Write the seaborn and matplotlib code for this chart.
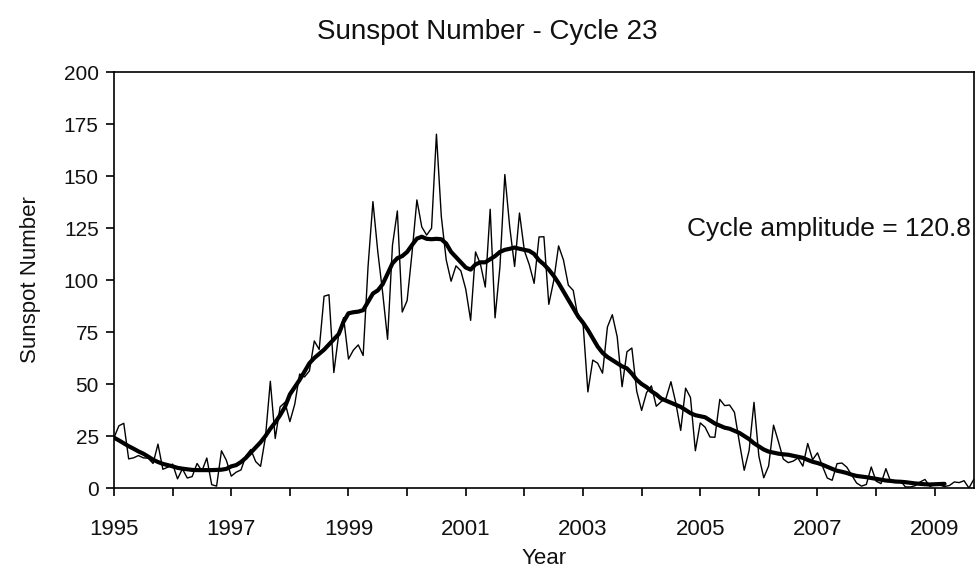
import numpy as np
import pandas as pd
import matplotlib
matplotlib.use("Agg")
import matplotlib.pyplot as plt
import seaborn as sns

# monthly mean sunspot numbers, Jan 1995 .. Sep 2009
monthly_ssn = [
    24.2, 29.9, 31.1, 14.0, 14.5, 15.6, 14.5, 14.3, 11.8, 21.1, 9.0, 10.0,      # 1995
    11.5, 4.4, 9.2, 4.8, 5.5, 11.8, 8.2, 14.4, 1.6, 0.9, 17.9, 13.3,            # 1996
    5.7, 7.6, 8.7, 15.5, 18.5, 12.7, 10.4, 24.4, 51.3, 23.8, 39.0, 41.2,        # 1997
    31.9, 40.3, 54.8, 53.4, 56.3, 70.7, 66.6, 92.2, 92.9, 55.5, 74.0, 81.9,     # 1998
    62.0, 66.3, 68.8, 63.7, 106.4, 137.7, 113.5, 93.7, 71.5, 116.7, 133.2, 84.6,  # 1999
    90.1, 112.9, 138.5, 125.5, 121.6, 124.9, 170.1, 130.5, 109.7, 99.4, 106.8, 104.4,  # 2000
    95.6, 80.6, 113.5, 107.7, 96.6, 134.0, 81.8, 106.4, 150.7, 125.5, 106.5, 132.2,  # 2001
    114.1, 107.4, 98.4, 120.7, 120.8, 88.3, 99.6, 116.4, 109.6, 97.5, 95.0, 81.6,  # 2002
    79.5, 46.2, 61.5, 60.0, 55.2, 77.4, 83.3, 72.7, 48.7, 65.5, 67.3, 46.5,     # 2003
    37.3, 45.8, 49.1, 39.3, 41.5, 43.2, 51.1, 40.9, 27.7, 48.0, 43.5, 17.9,     # 2004
    31.3, 29.2, 24.5, 24.4, 42.6, 39.6, 39.9, 36.4, 22.1, 8.5, 18.0, 41.2,      # 2005
    15.3, 4.9, 10.6, 30.2, 22.3, 13.9, 12.2, 12.9, 14.4, 10.5, 21.4, 13.6,      # 2006
    16.9, 10.6, 4.8, 3.7, 11.7, 12.0, 10.0, 6.2, 2.4, 0.9, 1.7, 10.1,           # 2007
    3.3, 2.1, 9.3, 2.9, 3.2, 3.4, 0.5, 0.5, 1.1, 2.9, 4.1, 0.8,                 # 2008
    1.5, 1.4, 0.7, 1.2, 2.9, 2.6, 3.5, 0.0, 4.2,                                # 2009
]

# 13-month smoothed sunspot numbers, Jan 1995 .. Mar 2009
smoothed_ssn = [
    24.2, 22.9, 21.5, 20.1, 18.9, 17.6, 16.5, 15.1, 13.6, 12.5, 11.6, 11.0,
    10.4, 9.7, 9.3, 9.0, 8.7, 8.6, 8.6, 8.6, 8.6, 8.7, 8.8, 9.2,
    10.4, 11.0, 12.5, 14.5, 17.0, 19.5, 22.0, 25.0, 28.5, 31.5, 35.0, 39.0,
    45.0, 48.5, 52.0, 56.0, 60.0, 62.5, 64.5, 66.5, 69.0, 71.5, 74.0, 80.0,
    84.0, 84.5, 84.8, 85.5, 89.5, 93.5, 95.0, 98.0, 103.0, 108.0, 110.5, 111.5,
    113.5, 116.8, 119.9, 120.8, 119.8, 119.6, 119.8, 119.6, 117.5, 113.5, 111.0, 108.5,
    106.0, 105.0, 107.5, 108.5, 108.5, 110.0, 111.5, 113.5, 114.5, 115.0, 115.6, 115.0,
    114.5, 114.0, 112.5, 109.5, 107.5, 105.0, 102.0, 98.5, 94.5, 90.5, 86.5, 82.5,
    79.5, 76.0, 72.0, 68.0, 65.0, 63.0, 61.5, 60.0, 58.5, 57.5, 55.0, 52.0,
    50.0, 48.5, 46.5, 45.0, 43.0, 42.0, 41.0, 40.0, 39.0, 37.5, 36.0, 35.0,
    34.5, 34.0, 32.5, 31.0, 30.0, 29.0, 28.5, 27.5, 26.5, 25.0, 23.5, 21.5,
    20.0, 18.5, 17.5, 17.0, 16.5, 16.2, 16.0, 15.5, 15.0, 14.5, 13.5, 12.6,
    12.0, 11.2, 10.2, 9.2, 8.3, 7.8, 7.2, 6.4, 5.8, 5.5, 5.2, 4.8,
    4.4, 4.0, 3.6, 3.4, 3.1, 3.0, 2.8, 2.5, 2.2, 2.0, 1.8, 1.7,
    1.8, 1.9, 2.0,
]

start_year = 1995
year_ticks = list(range(1995, 2010))
y_ticks = [0, 25, 50, 75, 100, 125, 150, 175, 200]
amplitude = 120.8

monthly = pd.DataFrame({
    "year": start_year + np.arange(len(monthly_ssn)) / 12.0,
    "ssn": monthly_ssn,
})
smooth = pd.DataFrame({
    "year": start_year + np.arange(len(smoothed_ssn)) / 12.0,
    "ssn": smoothed_ssn,
})

sns.set_style("ticks")
plt.rcParams["font.family"] = ["Liberation Sans", "DejaVu Sans"]
plt.rcParams["text.color"] = "#111111"
plt.rcParams["axes.labelcolor"] = "#111111"

fig = plt.figure(figsize=(9.75, 5.75), dpi=100)
ax = fig.add_axes([114 / 975, 1 - 488 / 575, 1 - 114 / 975 - 0.001, (488 - 72) / 575])

sns.lineplot(data=monthly, x="year", y="ssn", ax=ax, color="black", linewidth=1.0)
sns.lineplot(data=smooth, x="year", y="ssn", ax=ax, color="black", linewidth=3.0)

ax.set_xlim(1995, 2009.67)
ax.set_ylim(0, 200)
ax.set_xticks(year_ticks)
ax.set_xticklabels([str(y) if (y - 1995) % 2 == 0 else "" for y in year_ticks])
ax.set_yticks(y_ticks)
ax.tick_params(axis="both", direction="out", length=6, width=1.2, color="black",
               labelcolor="#111111", labelsize=15)
ax.tick_params(axis="x", pad=16, labelsize=16)
ax.tick_params(axis="y", pad=5)
for side in ["left", "bottom", "top", "right"]:
    ax.spines[side].set_visible(True)
    ax.spines[side].set_color("black")
    ax.spines[side].set_linewidth(1.2)

ax.set_xlabel("Year", fontsize=16, labelpad=6)
ax.set_ylabel("Sunspot Number", fontsize=16, labelpad=16)
fig.text(0.5, 1 - 32 / 575, "Sunspot Number - Cycle 23", ha="center", va="center",
         fontsize=20)
ax.text(2009.62, 124.5, f"Cycle amplitude = {amplitude}", ha="right", va="center",
        fontsize=19)

fig.savefig("out.png", dpi=100, facecolor="white")
plt.close(fig)
